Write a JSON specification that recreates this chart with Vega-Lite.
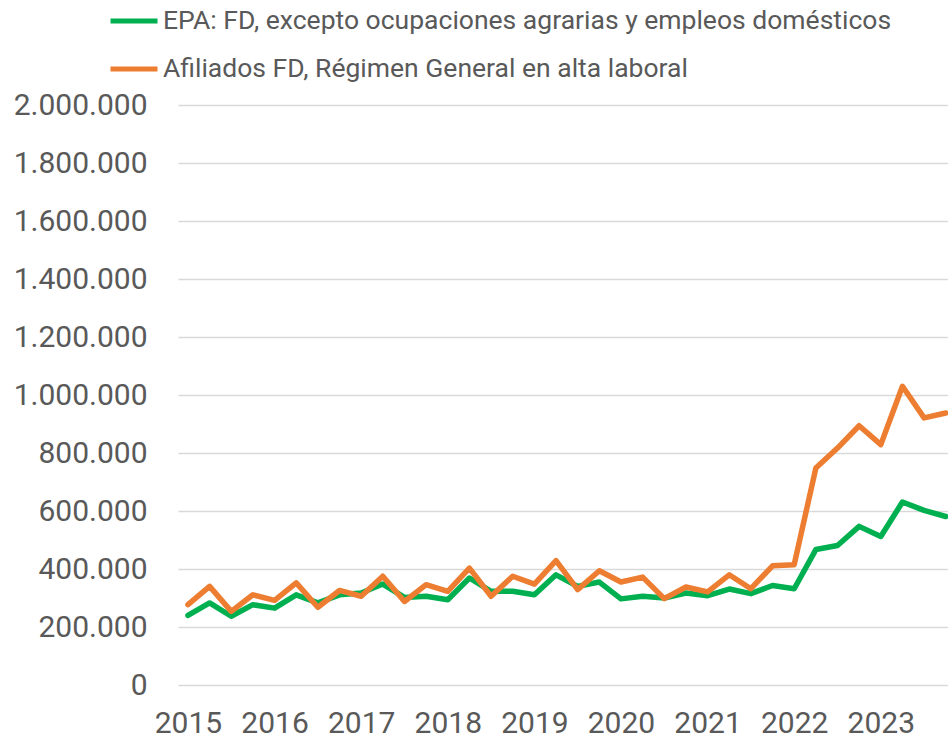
{
  "$schema": "https://vega.github.io/schema/vega-lite/v6.json",
  "width": 770,
  "height": 580,
  "autosize": {"type": "none"},
  "padding": {"left": 178, "top": 105, "right": 0, "bottom": 54},
  "config": {
    "view": {"stroke": null},
    "font": "Roboto",
    "locale": {"number": {"decimal": ",", "thousands": ".", "grouping": [3], "currency": ["", " €"]}}
  },
  "data": {"values": [
    {"t": 2015.00, "serie": "EPA: FD,  excepto ocupaciones agrarias y empleos domésticos", "v": 240000},
    {"t": 2015.25, "serie": "EPA: FD,  excepto ocupaciones agrarias y empleos domésticos", "v": 283000},
    {"t": 2015.50, "serie": "EPA: FD,  excepto ocupaciones agrarias y empleos domésticos", "v": 237000},
    {"t": 2015.75, "serie": "EPA: FD,  excepto ocupaciones agrarias y empleos domésticos", "v": 277000},
    {"t": 2016.00, "serie": "EPA: FD,  excepto ocupaciones agrarias y empleos domésticos", "v": 265000},
    {"t": 2016.25, "serie": "EPA: FD,  excepto ocupaciones agrarias y empleos domésticos", "v": 311000},
    {"t": 2016.50, "serie": "EPA: FD,  excepto ocupaciones agrarias y empleos domésticos", "v": 283000},
    {"t": 2016.75, "serie": "EPA: FD,  excepto ocupaciones agrarias y empleos domésticos", "v": 311000},
    {"t": 2017.00, "serie": "EPA: FD,  excepto ocupaciones agrarias y empleos domésticos", "v": 317000},
    {"t": 2017.25, "serie": "EPA: FD,  excepto ocupaciones agrarias y empleos domésticos", "v": 348000},
    {"t": 2017.50, "serie": "EPA: FD,  excepto ocupaciones agrarias y empleos domésticos", "v": 302000},
    {"t": 2017.75, "serie": "EPA: FD,  excepto ocupaciones agrarias y empleos domésticos", "v": 306000},
    {"t": 2018.00, "serie": "EPA: FD,  excepto ocupaciones agrarias y empleos domésticos", "v": 294000},
    {"t": 2018.25, "serie": "EPA: FD,  excepto ocupaciones agrarias y empleos domésticos", "v": 369000},
    {"t": 2018.50, "serie": "EPA: FD,  excepto ocupaciones agrarias y empleos domésticos", "v": 323000},
    {"t": 2018.75, "serie": "EPA: FD,  excepto ocupaciones agrarias y empleos domésticos", "v": 323000},
    {"t": 2019.00, "serie": "EPA: FD,  excepto ocupaciones agrarias y empleos domésticos", "v": 311000},
    {"t": 2019.25, "serie": "EPA: FD,  excepto ocupaciones agrarias y empleos domésticos", "v": 380000},
    {"t": 2019.50, "serie": "EPA: FD,  excepto ocupaciones agrarias y empleos domésticos", "v": 340000},
    {"t": 2019.75, "serie": "EPA: FD,  excepto ocupaciones agrarias y empleos domésticos", "v": 355000},
    {"t": 2020.00, "serie": "EPA: FD,  excepto ocupaciones agrarias y empleos domésticos", "v": 297000},
    {"t": 2020.25, "serie": "EPA: FD,  excepto ocupaciones agrarias y empleos domésticos", "v": 306000},
    {"t": 2020.50, "serie": "EPA: FD,  excepto ocupaciones agrarias y empleos domésticos", "v": 300000},
    {"t": 2020.75, "serie": "EPA: FD,  excepto ocupaciones agrarias y empleos domésticos", "v": 317000},
    {"t": 2021.00, "serie": "EPA: FD,  excepto ocupaciones agrarias y empleos domésticos", "v": 308000},
    {"t": 2021.25, "serie": "EPA: FD,  excepto ocupaciones agrarias y empleos domésticos", "v": 331000},
    {"t": 2021.50, "serie": "EPA: FD,  excepto ocupaciones agrarias y empleos domésticos", "v": 315000},
    {"t": 2021.75, "serie": "EPA: FD,  excepto ocupaciones agrarias y empleos domésticos", "v": 343000},
    {"t": 2022.00, "serie": "EPA: FD,  excepto ocupaciones agrarias y empleos domésticos", "v": 332000},
    {"t": 2022.25, "serie": "EPA: FD,  excepto ocupaciones agrarias y empleos domésticos", "v": 467000},
    {"t": 2022.50, "serie": "EPA: FD,  excepto ocupaciones agrarias y empleos domésticos", "v": 481000},
    {"t": 2022.75, "serie": "EPA: FD,  excepto ocupaciones agrarias y empleos domésticos", "v": 547000},
    {"t": 2023.00, "serie": "EPA: FD,  excepto ocupaciones agrarias y empleos domésticos", "v": 512000},
    {"t": 2023.25, "serie": "EPA: FD,  excepto ocupaciones agrarias y empleos domésticos", "v": 631000},
    {"t": 2023.50, "serie": "EPA: FD,  excepto ocupaciones agrarias y empleos domésticos", "v": 602000},
    {"t": 2023.75, "serie": "EPA: FD,  excepto ocupaciones agrarias y empleos domésticos", "v": 581000},
    {"t": 2015.00, "serie": "Afiliados FD, Régimen General en alta laboral", "v": 277000},
    {"t": 2015.25, "serie": "Afiliados FD, Régimen General en alta laboral", "v": 340000},
    {"t": 2015.50, "serie": "Afiliados FD, Régimen General en alta laboral", "v": 254000},
    {"t": 2015.75, "serie": "Afiliados FD, Régimen General en alta laboral", "v": 311000},
    {"t": 2016.00, "serie": "Afiliados FD, Régimen General en alta laboral", "v": 292000},
    {"t": 2016.25, "serie": "Afiliados FD, Régimen General en alta laboral", "v": 352000},
    {"t": 2016.50, "serie": "Afiliados FD, Régimen General en alta laboral", "v": 268000},
    {"t": 2016.75, "serie": "Afiliados FD, Régimen General en alta laboral", "v": 326000},
    {"t": 2017.00, "serie": "Afiliados FD, Régimen General en alta laboral", "v": 306000},
    {"t": 2017.25, "serie": "Afiliados FD, Régimen General en alta laboral", "v": 375000},
    {"t": 2017.50, "serie": "Afiliados FD, Régimen General en alta laboral", "v": 288000},
    {"t": 2017.75, "serie": "Afiliados FD, Régimen General en alta laboral", "v": 346000},
    {"t": 2018.00, "serie": "Afiliados FD, Régimen General en alta laboral", "v": 323000},
    {"t": 2018.25, "serie": "Afiliados FD, Régimen General en alta laboral", "v": 403000},
    {"t": 2018.50, "serie": "Afiliados FD, Régimen General en alta laboral", "v": 306000},
    {"t": 2018.75, "serie": "Afiliados FD, Régimen General en alta laboral", "v": 375000},
    {"t": 2019.00, "serie": "Afiliados FD, Régimen General en alta laboral", "v": 348000},
    {"t": 2019.25, "serie": "Afiliados FD, Régimen General en alta laboral", "v": 429000},
    {"t": 2019.50, "serie": "Afiliados FD, Régimen General en alta laboral", "v": 329000},
    {"t": 2019.75, "serie": "Afiliados FD, Régimen General en alta laboral", "v": 394000},
    {"t": 2020.00, "serie": "Afiliados FD, Régimen General en alta laboral", "v": 355000},
    {"t": 2020.25, "serie": "Afiliados FD, Régimen General en alta laboral", "v": 372000},
    {"t": 2020.50, "serie": "Afiliados FD, Régimen General en alta laboral", "v": 298000},
    {"t": 2020.75, "serie": "Afiliados FD, Régimen General en alta laboral", "v": 338000},
    {"t": 2021.00, "serie": "Afiliados FD, Régimen General en alta laboral", "v": 321000},
    {"t": 2021.25, "serie": "Afiliados FD, Régimen General en alta laboral", "v": 380000},
    {"t": 2021.50, "serie": "Afiliados FD, Régimen General en alta laboral", "v": 332000},
    {"t": 2021.75, "serie": "Afiliados FD, Régimen General en alta laboral", "v": 411000},
    {"t": 2022.00, "serie": "Afiliados FD, Régimen General en alta laboral", "v": 415000},
    {"t": 2022.25, "serie": "Afiliados FD, Régimen General en alta laboral", "v": 748000},
    {"t": 2022.50, "serie": "Afiliados FD, Régimen General en alta laboral", "v": 817000},
    {"t": 2022.75, "serie": "Afiliados FD, Régimen General en alta laboral", "v": 894000},
    {"t": 2023.00, "serie": "Afiliados FD, Régimen General en alta laboral", "v": 829000},
    {"t": 2023.25, "serie": "Afiliados FD, Régimen General en alta laboral", "v": 1030000},
    {"t": 2023.50, "serie": "Afiliados FD, Régimen General en alta laboral", "v": 921000},
    {"t": 2023.75, "serie": "Afiliados FD, Régimen General en alta laboral", "v": 938000}
  ]},
  "mark": {"type": "line", "strokeWidth": 5.5, "clip": true, "strokeJoin": "round", "strokeCap": "round"},
  "encoding": {
    "x": {
      "field": "t", "type": "quantitative",
      "scale": {"domain": [2014.885, 2023.776], "nice": false, "zero": false},
      "axis": {
        "values": [2015, 2016, 2017, 2018, 2019, 2020, 2021, 2022, 2023],
        "format": "d", "grid": false, "domain": false, "ticks": false,
        "labelFontSize": 30, "labelColor": "#595959", "labelPadding": 23,
        "labelFlush": false, "title": null
      }
    },
    "y": {
      "field": "v", "type": "quantitative",
      "scale": {"domain": [0, 2000000], "nice": false},
      "axis": {
        "values": [0, 200000, 400000, 600000, 800000, 1000000, 1200000, 1400000, 1600000, 1800000, 2000000],
        "format": ",d", "gridColor": "#d9d9d9", "gridWidth": 1.5,
        "domain": false, "ticks": false,
        "labelFontSize": 30, "labelColor": "#595959", "labelPadding": 31,
        "title": null
      }
    },
    "color": {
      "field": "serie", "type": "nominal",
      "scale": {
        "domain": ["EPA: FD,  excepto ocupaciones agrarias y empleos domésticos", "Afiliados FD, Régimen General en alta laboral"],
        "range": ["#00B050", "#ED7D31"]
      },
      "legend": {
        "title": null, "orient": "none", "legendX": -70, "legendY": -110,
        "symbolType": "stroke", "symbolSize": 2209, "symbolStrokeWidth": 5,
        "labelFontSize": 26.5, "labelColor": "#595959", "labelLimit": 0,
        "rowPadding": 8, "padding": 0, "labelOffset": 3
      }
    }
  }
}
